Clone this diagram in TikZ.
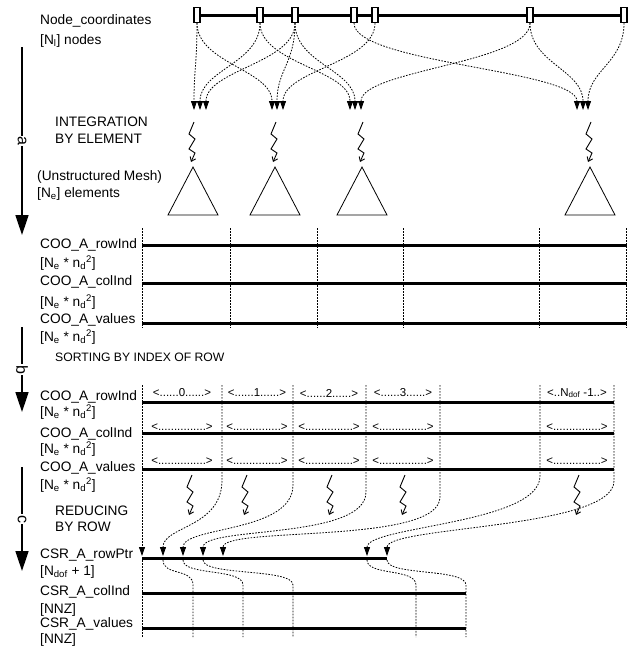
\documentclass[tikz,border=0pt]{standalone}
\usepackage{fontspec}
\setmainfont{Liberation Sans}
\usetikzlibrary{arrows.meta,positioning}

\newcommand{\NeNd}{[N\textsubscript{e} * n\textsubscript{d}\textsuperscript{2}]}

\begin{document}
\begin{tikzpicture}[x=1pt, y=-1pt, font=\fontsize{13.7}{15}\selectfont,
  lbl/.style={anchor=west, inner sep=0pt},
  seg/.style={inner sep=0pt, font=\fontsize{11.5}{12}\selectfont},
  arr/.style={line width=3pt},
  dsh/.style={line width=0.8pt, dash pattern=on 1.6pt off 1.4pt},
  tip/.style={-{Triangle[width=6pt,length=9pt]}},
  knot/.style={draw, line width=1.2pt, fill=white, minimum width=6pt, minimum height=15pt, inner sep=0pt},
  big/.style={line width=1.5pt, -{Triangle[width=13pt,length=20pt]}},
  stage/.style={fill=white, inner sep=0.6pt, rotate=-90, font=\fontsize{16}{16}\selectfont},
  zap/.pic={\draw[line width=0.9pt, -{Straight Barb[length=4pt,width=6pt]}]
    (2,0) -- (-3,12) -- (3,17) -- (-3,27) -- (3,31) -- (-1,40);}]
\useasboundingbox (0,0) rectangle (640,648);

% stages
\coordinate (aS) at (22,47);  \coordinate (aE) at (22,235);
\coordinate (bS) at (22,327); \coordinate (bE) at (22,412);
\coordinate (cS) at (22,467); \coordinate (cE) at (22,571);
\draw[big] (aS) -- node[stage] {a} (aE);
\draw[big] (bS) -- node[stage] {b} (bE);
\draw[big] (cS) -- node[stage] {c} (cE);

% node coordinates
\node[lbl] (t1) at (40,21) {Node\_coordinates};
\node[lbl] (t2) at (40,41) {[N\textsubscript{l}] nodes};
\foreach \x [count=\i] in {197,260,295,354,375,530,624}
  \node[knot] (n\i) at (\x,15) {};
\foreach \a/\b in {n1/n2,n2/n3,n3/n4,n4/n5,n5/n6,n6/n7}
  \draw[arr] (\a.east) -- (\b.west);
\foreach \x [count=\i] in {194,200,206,272,277,283,350,355,361,577,583,588}
  \coordinate (g\i) at (\x,110);
\foreach \s/\g in {n1/g1,n2/g2,n3/g3,n1/g4,n3/g5,n5/g6,n2/g7,n3/g8,n6/g9,n4/g10,n6/g11,n7/g12}
  \draw[dsh,tip] (\s.south) .. controls +(0,40) and +(0,-40) .. (\g);

% elements
\node[lbl] (t3) at (55,122) {INTEGRATION};
\node[lbl] (t4) at (55,139) {BY ELEMENT};
\node[lbl] (t5) at (37,177) {(Unstructured Mesh)};
\node[lbl] (t6) at (37,194) {[N\textsubscript{e}] elements};
\foreach \x in {193,275,362,590} {
  \pic at (\x-1,122) {zap};
  \draw[line width=0.8pt] (\x-25,215) -- (\x,167) -- (\x+25,215) -- cycle;
}

% COO
\node[lbl] (t7) at (40,245) {COO\_A\_rowInd};
\node[lbl] (t8) at (40,263) {\NeNd};
\node[lbl] (t9) at (40,282) {COO\_A\_colInd};
\node[lbl] (t10) at (40,302) {\NeNd};
\node[lbl] (t11) at (40,320) {COO\_A\_values};
\node[lbl] (t12) at (40,337) {\NeNd};
\foreach \x in {142,230,317,403,539,626}
  \draw[dsh] (\x,228) -- (\x,328);
\foreach \y in {245,283,323}
  \draw[arr] (142,\y) -- (627,\y);

% sorted COO
\node[lbl, font=\fontsize{12.2}{13}\selectfont] (t13) at (55,357) {SORTING BY INDEX OF ROW};
\node[lbl] (t14) at (40,397) {COO\_A\_rowInd};
\node[lbl] (t15) at (40,412) {\NeNd};
\node[lbl] (t16) at (40,434) {COO\_A\_colInd};
\node[lbl] (t17) at (40,449) {\NeNd};
\node[lbl] (t18) at (40,468) {COO\_A\_values};
\node[lbl] (t19) at (40,485) {\NeNd};
\foreach \y in {402,433,469}
  \draw[arr] (142,\y) -- (614,\y);
\foreach \x/\k in {182/0,257/1,329/2,403/3} {
  \node[seg] at (\x,393) {<......\k......>};
  \node[seg] at (\x,427) {<...............>};
  \node[seg] at (\x,461) {<...............>};
}
\node[seg] at (577,393) {<..N\textsubscript{dof} -1..>};
\node[seg] at (577,427) {<...............>};
\node[seg] at (577,461) {<...............>};

% reducing
\node[lbl] (t20) at (55,511) {REDUCING};
\node[lbl] (t21) at (55,527) {BY ROW};
\foreach \x in {190,245,330,403,577}
  \pic at (\x,475) {zap};

% CSR
\node[lbl] (t22) at (40,555) {CSR\_A\_rowPtr};
\node[lbl] (t23) at (40,572) {[N\textsubscript{dof} + 1]};
\node[lbl] (t24) at (40,592) {CSR\_A\_colInd};
\node[lbl] (t25) at (40,610) {[NNZ]};
\node[lbl] (t26) at (40,624) {CSR\_A\_values};
\node[lbl] (t27) at (40,640) {[NNZ]};
\foreach \x [count=\i from 0] in {142,163,183,203,223,367,387}
  \coordinate (r\i) at (\x,556);
\draw[arr] (142,558) -- (387,558);
\draw[arr] (142,593) -- (466,593);
\draw[arr] (142,628) -- (466,628);
\coordinate (s0) at (142,385);
\draw[dsh,tip] (s0) -- (r0);
\draw[dsh] (142,560) -- (142,637);
\foreach \x/\r/\b in {222/r1/480,293/r2/485,366/r3/492,440/r4/497,540/r5/476,614/r6/481}
  \draw[dsh,tip] (\x,385) -- (\x,\b) .. controls (\x,\b+48) and ([yshift=30pt]\r) .. (\r);
\foreach \r/\x in {r1/193,r2/243,r3/293,r5/416,r6/466}
  \draw[dsh] ([yshift=-4pt]\r) .. controls +(0,16) and (\x,568) .. (\x,585) -- (\x,637);
\end{tikzpicture}
\end{document}
